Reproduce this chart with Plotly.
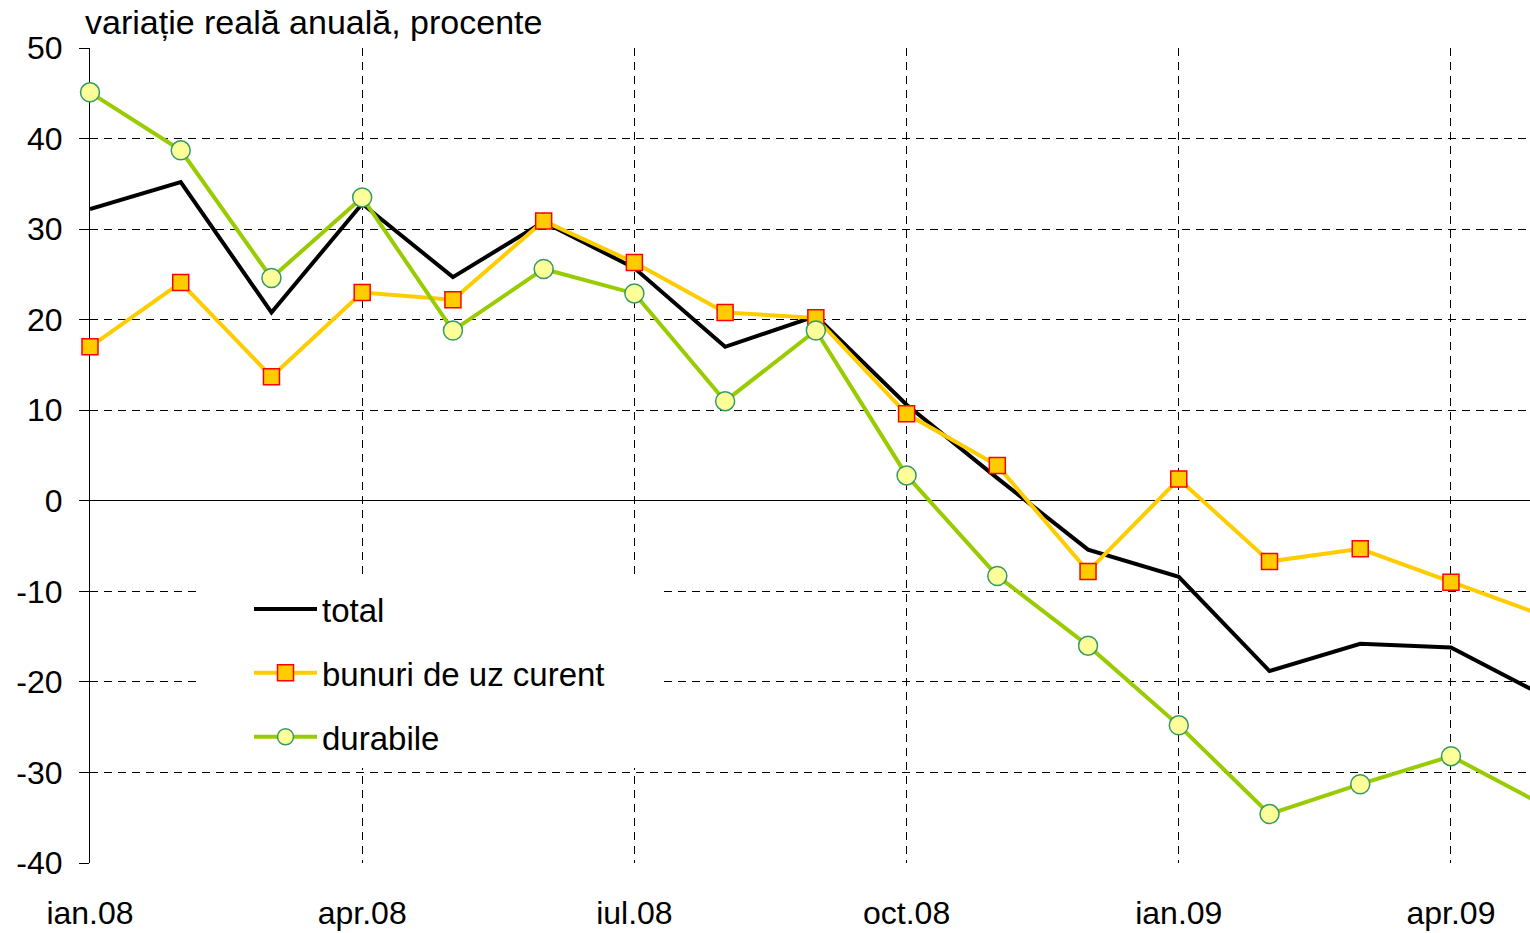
import plotly.graph_objects as go

months = ["ian.08", "feb.08", "mar.08", "apr.08", "mai.08", "iun.08", "iul.08", "aug.08",
          "sep.08", "oct.08", "nov.08", "dec.08", "ian.09", "feb.09", "mar.09", "apr.09", "mai.09"]
total = [32.2, 35.2, 20.8, 32.8, 24.7, 30.8, 25.7, 17.0, 20.4, 10.6, 2.5, -5.4, -8.4, -18.8, -15.8, -16.2, -21.4]
bunuri = [17.0, 24.1, 13.7, 23.0, 22.2, 30.9, 26.3, 20.8, 20.2, 9.6, 3.9, -7.8, 2.4, -6.7, -5.3, -9.0, -12.6]
durabile = [45.1, 38.7, 24.6, 33.5, 18.8, 25.6, 22.9, 11.0, 18.8, 2.8, -8.3, -16.0, -24.8, -34.6, -31.3, -28.2, -33.5]
tick_months = ["ian.08", "apr.08", "iul.08", "oct.08", "ian.09", "apr.09"]
y_ticks = [-40, -30, -20, -10, 0, 10, 20, 30, 40, 50]
y_labels = ["-40", "-30", "-20", "-10", "0", "10", "20", "30", "40", "50"]

FONT = "Arial, Liberation Sans, sans-serif"

fig = go.Figure()
fig.add_trace(go.Scatter(x=months, y=total, name="total", mode="lines",
                         line=dict(color="#000000", width=4), legendgroup="a"))
fig.add_trace(go.Scatter(x=months, y=bunuri, name="bunuri de uz curent", mode="lines+markers",
                         line=dict(color="#FFCC00", width=4), cliponaxis=False,
                         marker=dict(symbol="square", size=16, color="#FFCC00",
                                     line=dict(color="#FF0000", width=1.5)),
                         legendgroup="b"))
fig.add_trace(go.Scatter(x=months, y=durabile, name="durabile", mode="lines+markers",
                         line=dict(color="#99CC00", width=4), cliponaxis=False,
                         marker=dict(symbol="circle", size=19, color="#FFFF99",
                                     line=dict(color="#339966", width=1.5)),
                         legendgroup="c"))

# white box behind legend (covers gridlines; no data passes through this area)
fig.add_shape(type="rect", xref="paper", yref="paper",
              x0=(197 - 90) / 1440, x1=(660 - 90) / 1440,
              y0=(863 - 768) / 815, y1=(863 - 577) / 815,
              fillcolor="white", line=dict(width=0), layer="above")

fig.update_layout(
    width=1530, height=933,
    margin=dict(l=90, r=0, t=48, b=70),
    paper_bgcolor="white", plot_bgcolor="white",
    font=dict(family=FONT, size=32, color="black"),
    showlegend=True,
    legend=dict(x=(249 - 90) / 1440, y=(863 - 581) / 815, xanchor="left", yanchor="top",
                bgcolor="rgba(0,0,0,0)", font=dict(size=33, family=FONT),
                traceorder="grouped", tracegroupgap=18, itemwidth=63),
    xaxis=dict(type="category", categoryorder="array", categoryarray=months,
               range=[0, 15.871], tickmode="array", tickvals=tick_months, ticktext=tick_months,
               showgrid=True, gridcolor="black", gridwidth=1, griddash="8px,6px",
               showline=False, zeroline=False, ticks="", ticklabelstandoff=28,
               tickfont=dict(size=32, family=FONT), layer="below traces"),
    yaxis=dict(range=[-40, 50], tickmode="array", tickvals=y_ticks, ticktext=y_labels,
               showgrid=True, gridcolor="black", gridwidth=1, griddash="8px,6px",
               zeroline=True, zerolinecolor="black", zerolinewidth=1,
               showline=True, linecolor="black", linewidth=1,
               ticks="outside", ticklen=10, tickcolor="black", ticklabelstandoff=10,
               tickfont=dict(size=32, family=FONT), layer="below traces"),
    annotations=[dict(text="variație reală anuală, procente", xref="paper", yref="paper",
                      x=0, y=1, xanchor="left", yanchor="bottom", xshift=-7, yshift=5,
                      showarrow=False, font=dict(size=34, family=FONT, color="black"))],
)

fig.write_html("out.html", config={"displayModeBar": False},
               post_script="document.body.style.margin='0';document.body.style.overflow='hidden';")
